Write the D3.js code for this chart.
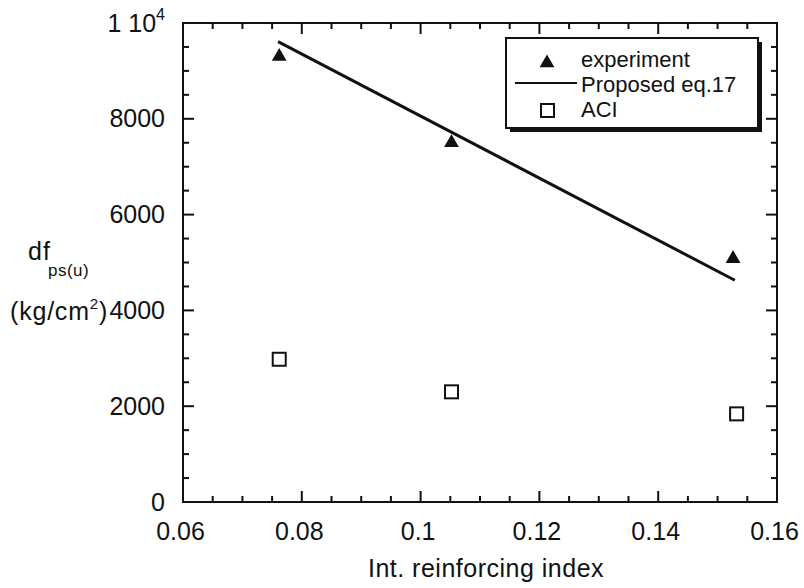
<!DOCTYPE html>
<html>
<head>
<meta charset="utf-8">
<title>df ps(u) vs reinforcing index</title>
<script src="https://d3js.org/d3.v7.min.js"></script>
<style>
body { margin: 0; background: #fff; }
svg text { font-family: "Liberation Sans", Arial, sans-serif; fill: #111; }
</style>
</head>
<body>
<svg width="804" height="588"></svg>
<script>
// data
var experimentX = [0.0762, 0.1052, 0.1526];
var experimentY = [9300, 7500, 5080];
var proposedX = [0.0760, 0.1529];
var proposedY = [9610, 4630];
var aciX = [0.0762, 0.1052, 0.1532];
var aciY = [2980, 2300, 1840];
var xTicks = [0.06, 0.08, 0.1, 0.12, 0.14, 0.16];
var yTicks = [0, 2000, 4000, 6000, 8000];
var legendLabels = ["experiment", "Proposed eq.17", "ACI"];

var svg = d3.select("svg");
// plot frame in pixels ("top" is taken by window.top, so use other names)
var pL = 183, pR = 777, pT = 23, pB = 502;

var x = d3.scaleLinear().domain([0.06, 0.16]).range([pL, pR]);
var y = d3.scaleLinear().domain([0, 10000]).range([pB, pT]);

// frame
svg.append("rect")
    .attr("x", pL).attr("y", pT)
    .attr("width", pR - pL).attr("height", pB - pT)
    .attr("fill", "none").attr("stroke", "#111").attr("stroke-width", 2);

// ticks pointing inward on all four sides
var xMinor = d3.range(13, 32).map(function(i) { return i * 0.005; });
var yMinor = d3.range(1, 20).map(function(i) { return i * 500; });
function isMajorX(v) { return Math.abs(v * 50 - Math.round(v * 50)) < 1e-6; }
function isMajorY(v) { return v % 2000 === 0; }

var tk = svg.append("g").attr("stroke", "#111").attr("stroke-width", 2);
xMinor.forEach(function(v) {
  var len = isMajorX(v) ? 11 : 6;
  tk.append("line").attr("x1", x(v)).attr("x2", x(v)).attr("y1", pB).attr("y2", pB - len);
  tk.append("line").attr("x1", x(v)).attr("x2", x(v)).attr("y1", pT).attr("y2", pT + len);
});
yMinor.forEach(function(v) {
  var len = isMajorY(v) ? 11 : 6;
  tk.append("line").attr("x1", pL).attr("x2", pL + len).attr("y1", y(v)).attr("y2", y(v));
  tk.append("line").attr("x1", pR).attr("x2", pR - len).attr("y1", y(v)).attr("y2", y(v));
});

// tick labels via axes (tick lines hidden)
var xAxis = svg.append("g")
    .attr("transform", "translate(0," + pB + ")")
    .call(d3.axisBottom(x).tickValues(xTicks).tickSize(0).tickPadding(20)
      .tickFormat(function(d) { return String(+d.toFixed(2)); }));
xAxis.select(".domain").remove();
xAxis.selectAll("text").attr("font-size", 25).attr("font-family", null).attr("dx", -3);

var yAxis = svg.append("g")
    .attr("transform", "translate(" + pL + ",0)")
    .call(d3.axisLeft(y).tickValues(yTicks).tickSize(0).tickPadding(18).tickFormat(d3.format("d")));
yAxis.select(".domain").remove();
yAxis.selectAll("text").attr("font-size", 25).attr("font-family", null);

// top label 1 10^4
var topLab = svg.append("text").attr("x", pL - 18).attr("y", y(10000) + 9)
    .attr("text-anchor", "end").attr("font-size", 25);
topLab.append("tspan").text("1 10");
topLab.append("tspan").attr("dy", -12).attr("font-size", 16).text("4");

// axis titles
svg.append("text").attr("x", 486).attr("y", 577)
    .attr("text-anchor", "middle").attr("font-size", 25).attr("letter-spacing", 0.5)
    .text("Int. reinforcing index");

var yl1 = svg.append("text").attr("x", 28).attr("y", 260).attr("font-size", 25).attr("letter-spacing", 1);
yl1.append("tspan").text("df");
yl1.append("tspan").attr("x", 48).attr("y", 276).attr("font-size", 17).attr("letter-spacing", 0.5).text("ps(u)");

var yl2 = svg.append("text").attr("x", 10).attr("y", 320).attr("font-size", 25).attr("letter-spacing", 0.8);
yl2.append("tspan").text("(kg/cm");
yl2.append("tspan").attr("dy", -11).attr("font-size", 15).text("2");
yl2.append("tspan").attr("dy", 11).text(")");

// proposed line
var line = d3.line().x(function(d) { return x(d[0]); }).y(function(d) { return y(d[1]); });
svg.append("path")
    .datum(d3.zip(proposedX, proposedY))
    .attr("d", line).attr("fill", "none").attr("stroke", "#111").attr("stroke-width", 3);

// experiment triangles
var tri = d3.symbol().type(d3.symbolTriangle).size(95);
svg.selectAll(".exp").data(d3.zip(experimentX, experimentY)).enter().append("path")
    .attr("class", "exp")
    .attr("d", tri)
    .attr("transform", function(d) { return "translate(" + x(d[0]) + "," + y(d[1]) + ")"; })
    .attr("fill", "#111");

// ACI squares
svg.selectAll(".aci").data(d3.zip(aciX, aciY)).enter().append("rect")
    .attr("class", "aci")
    .attr("x", function(d) { return x(d[0]) - 6.5; })
    .attr("y", function(d) { return y(d[1]) - 6.5; })
    .attr("width", 13).attr("height", 13)
    .attr("fill", "none").attr("stroke", "#111").attr("stroke-width", 2);

// legend with drop shadow
var lg = svg.append("g");
lg.append("rect").attr("x", 510).attr("y", 42).attr("width", 252).attr("height", 90).attr("fill", "#111");
lg.append("rect").attr("x", 506).attr("y", 38).attr("width", 252).attr("height", 90)
    .attr("fill", "#fff").attr("stroke", "#111").attr("stroke-width", 2);
lg.append("path").attr("d", tri).attr("transform", "translate(547,63)").attr("fill", "#111");
lg.append("line").attr("x1", 515).attr("x2", 577).attr("y1", 83).attr("y2", 83)
    .attr("stroke", "#111").attr("stroke-width", 2);
lg.append("rect").attr("x", 541).attr("y", 104).attr("width", 13).attr("height", 13)
    .attr("fill", "none").attr("stroke", "#111").attr("stroke-width", 2);
legendLabels.forEach(function(t, i) {
  lg.append("text").attr("x", 581).attr("y", 67 + i * 25).attr("font-size", 22).text(t);
});
</script>
</body>
</html>
